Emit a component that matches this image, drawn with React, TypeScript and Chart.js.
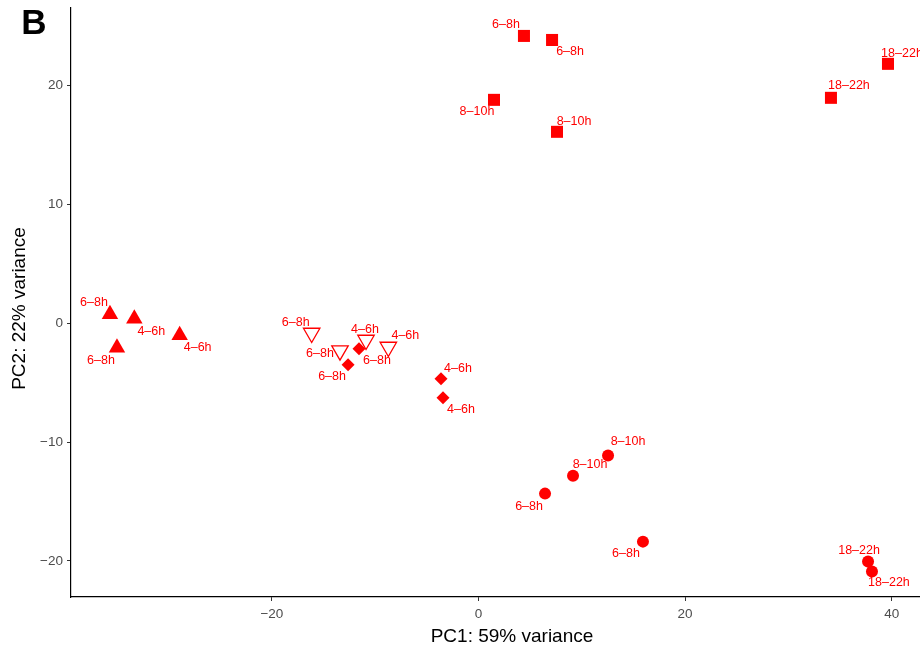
import React, { useEffect, useRef } from "react";
import { Chart, registerables } from "chart.js";

Chart.register(...registerables);

// ---- data ----
const xTicks = [-20, 0, 20, 40];
const yTicks = [-20, -10, 0, 10, 20];

const squareX = [4.40, 7.12, 1.50, 7.60, 39.64, 34.12];
const squareY = [24.18, 23.84, 18.80, 16.11, 21.83, 18.97];
const squareLabels = ["6–8h", "6–8h", "8–10h", "8–10h", "18–22h", "18–22h"];

const triUpX = [-35.68, -33.32, -28.93, -35.0];
const triUpY = [0.76, 0.38, -1.01, -2.06];
const triUpLabels = ["6–8h", "4–6h", "4–6h", "6–8h"];

const triDownX = [-16.15, -13.41, -10.89, -8.73];
const triDownY = [-0.82, -2.31, -1.41, -2.0];
const triDownLabels = ["6–8h", "6–8h", "4–6h", "4–6h"];

const diamondX = [-11.57, -12.63, -3.63, -3.44];
const diamondY = [-2.14, -3.49, -4.67, -6.27];
const diamondLabels = ["6–8h", "6–8h", "4–6h", "4–6h"];

const circleX = [12.54, 9.15, 6.44, 15.92, 37.71, 38.09];
const circleY = [-11.14, -12.83, -14.34, -18.38, -20.06, -20.9];
const circleLabels = ["8–10h", "8–10h", "6–8h", "6–8h", "18–22h", "18–22h"];

// label placement (repel-style offsets, in pixels)
const squareLabelOffsets = [[-18, -11], [18, 12], [-17, 12], [17, -10], [14, -10], [18, -12]];
const triUpLabelOffsets = [[-16, -12], [17, 13], [18, 12], [-16, 13]];
const triDownLabelOffsets = [[-16, -10], [-20, 3], [-1, -10], [17, -11]];
const diamondLabelOffsets = [[18, 12], [-16, 12], [17, -10], [18, 12]];
const circleLabelOffsets = [[20, -14], [17, -11], [-16, 13], [-17, 12], [-9, -11], [17, 11]];

const RED = "#FF0000";
const FONT = "'Liberation Sans', Arial, Helvetica, sans-serif";

const toPoints = (xs: number[], ys: number[]) => xs.map((x, i) => ({ x, y: ys[i] }));
const fmt = (v: number) => (v < 0 ? "\u2212" + Math.abs(v) : String(v));

const labelPlugin = {
  id: "pointLabels",
  afterDatasetsDraw(chart: any) {
    const ctx = chart.ctx;
    ctx.save();
    ctx.font = `12.5px ${FONT}`;
    ctx.fillStyle = RED;
    ctx.textAlign = "center";
    ctx.textBaseline = "middle";
    chart.data.datasets.forEach((ds: any, di: number) => {
      const meta = chart.getDatasetMeta(di);
      meta.data.forEach((el: any, i: number) => {
        const off = ds.labelOffsets[i];
        ctx.fillText(ds.pointLabels[i], el.x + off[0], el.y + off[1]);
      });
    });
    ctx.restore();
  },
};

const titlePlugin = {
  id: "titles",
  afterDraw(chart: any) {
    const ctx = chart.ctx;
    const area = chart.chartArea;
    ctx.save();
    ctx.fillStyle = "#000";
    ctx.font = `bold 35px ${FONT}`;
    ctx.textAlign = "center";
    ctx.textBaseline = "middle";
    ctx.fillText("B", 34, 24);

    ctx.font = `19px ${FONT}`;
    ctx.fillText("PC1: 59% variance", 512, 637);

    ctx.translate(20, (area.top + area.bottom) / 2 + 6);
    ctx.rotate(-Math.PI / 2);
    ctx.fillText("PC2: 22% variance", 0, 0);
    ctx.restore();
  },
};

export default function App() {
  const ref = useRef<HTMLCanvasElement | null>(null);

  useEffect(() => {
    if (!ref.current) return;
    const common = {
      showLine: false,
      backgroundColor: RED,
      borderColor: RED,
      borderWidth: 0,
    };
    const chart = new Chart(ref.current, {
      type: "scatter",
      data: {
        datasets: [
          {
            ...common,
            data: toPoints(squareX, squareY),
            pointStyle: "rect",
            pointRadius: 8.5,
            pointLabels: squareLabels,
            labelOffsets: squareLabelOffsets,
          } as any,
          {
            ...common,
            data: toPoints(triUpX, triUpY),
            pointStyle: "triangle",
            pointRadius: 9.5,
            pointLabels: triUpLabels,
            labelOffsets: triUpLabelOffsets,
          } as any,
          {
            ...common,
            data: toPoints(triDownX, triDownY),
            pointStyle: "triangle",
            rotation: 180,
            pointRadius: 9.5,
            backgroundColor: "rgba(255,255,255,0)",
            borderWidth: 1.3,
            pointLabels: triDownLabels,
            labelOffsets: triDownLabelOffsets,
          } as any,
          {
            ...common,
            data: toPoints(diamondX, diamondY),
            pointStyle: "rectRot",
            pointRadius: 6.5,
            pointLabels: diamondLabels,
            labelOffsets: diamondLabelOffsets,
          } as any,
          {
            ...common,
            data: toPoints(circleX, circleY),
            pointStyle: "circle",
            pointRadius: 6,
            pointLabels: circleLabels,
            labelOffsets: circleLabelOffsets,
          } as any,
        ],
      },
      options: {
        animation: false,
        responsive: false,
        devicePixelRatio: 1,
        layout: { autoPadding: false, padding: { top: 8, left: 0, right: 0, bottom: 0 } },
        plugins: {
          legend: { display: false },
          tooltip: { enabled: false },
        },
        scales: {
          x: {
            type: "linear",
            min: -39.45,
            max: 42.74,
            afterBuildTicks: (s: any) => {
              s.ticks = xTicks.map((v) => ({ value: v }));
            },
            afterFit: (s: any) => {
              s.height = 55;
              s.paddingLeft = 0;
              s.paddingRight = 0;
            },
            ticks: {
              color: "#4d4d4d",
              font: { size: 13.5, family: FONT },
              padding: 5,
              maxRotation: 0,
              callback: (v: any) => fmt(Number(v)),
            },
            grid: {
              display: true,
              drawOnChartArea: false,
              drawTicks: true,
              tickLength: 4,
              color: "#333",
              lineWidth: 1,
            },
            border: { display: true, color: "#000", width: 1.2 },
          },
          y: {
            type: "linear",
            min: -23.04,
            max: 26.53,
            afterBuildTicks: (s: any) => {
              s.ticks = yTicks.map((v) => ({ value: v }));
            },
            afterFit: (s: any) => {
              s.width = 71;
              s.paddingTop = 0;
              s.paddingBottom = 0;
            },
            ticks: {
              color: "#4d4d4d",
              font: { size: 13.5, family: FONT },
              padding: 4,
              callback: (v: any) => fmt(Number(v)),
            },
            grid: {
              display: true,
              drawOnChartArea: false,
              drawTicks: true,
              tickLength: 4,
              color: "#333",
              lineWidth: 1,
            },
            border: { display: true, color: "#000", width: 1.2 },
          },
        },
      } as any,
      plugins: [labelPlugin, titlePlugin],
    });
    return () => chart.destroy();
  }, []);

  return (
    <div style={{ position: "fixed", left: 0, top: 0, width: 920, height: 652, background: "#fff" }}>
      <canvas ref={ref} width={920} height={652} style={{ display: "block" }} />
    </div>
  );
}
